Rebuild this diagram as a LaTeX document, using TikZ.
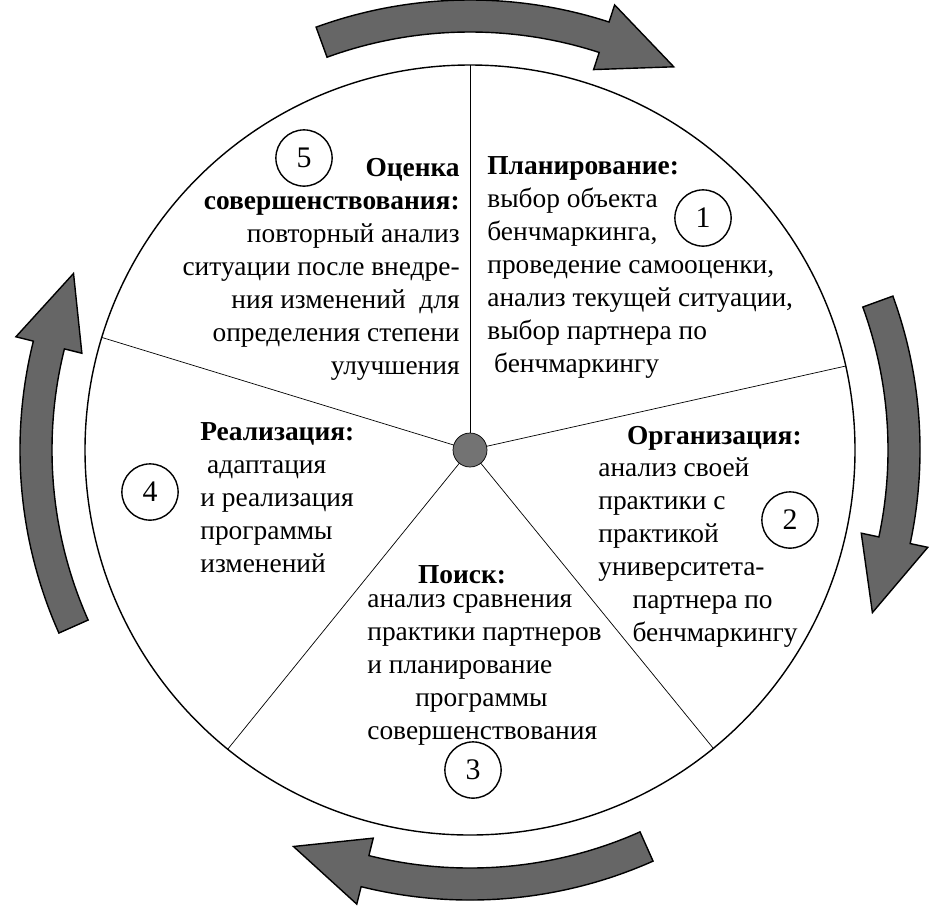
\documentclass[tikz,border=0pt]{standalone}
\usepackage{fontspec}
\setmainfont{Liberation Serif}
\usetikzlibrary{calc}
\tikzset{
  txt/.style={inner sep=0, font=\fontsize{15.6}{18.8}\selectfont},
  hdr/.style={txt, font=\fontsize{15.6}{18.8}\selectfont\bfseries},
  num/.style={draw, circle, thick, minimum size=32, inner sep=0,
    font=\fontsize{17}{19}\selectfont},
  spoke/.style={thin},
  cyc/.style={fill=black!60, draw=black, thick}
}
% curved arrow: from angle #1 to angle #2, tip at angle #3
\newcommand{\cyc}[3]{%
  \draw[cyc] ($(c)+(#1:418)$) arc[start angle=#1, end angle=#2, radius=418]
    -- ($(c)+(#2:400)$) -- ($(c)+(#3:434)$) -- ($(c)+(#2:468)$)
    -- ($(c)+(#2:450)$) arc[start angle=#2, end angle=#1, radius=450] -- cycle;}

\begin{document}
\begin{tikzpicture}[x=0.02cm, y=0.02cm]
  \useasboundingbox (0,0) rectangle (952,-907);
  \coordinate (c) at (470,-450);

  \draw[thick] (c) circle[radius=385];
  \foreach \a in {90, 12.6, -50.8, -129, 163}
    \draw[spoke] (c) -- ($(c)+(\a:385)$);
  \fill[black!55] (c) circle[radius=17];
  \draw (c) circle[radius=17];

  % arrows round the circle
  \cyc{110}{72}{62}
  \cyc{20}{-12}{-22}
  \cyc{-66}{-104}{-114}
  \cyc{-156}{-194}{-204}

  % 5
  \node[num] (n5) at (304,-158) {5};
  \node[txt, anchor=north east, align=right] (t5) at (460,-158)
    {\textbf{Оценка}\\\textbf{совершенствования:}\\повторный анализ\\ситуации после внедре-\\ния изменений\ \ для\\определения степени\\улучшения};

  % 1
  \node[txt, anchor=north west, align=left] (t1) at (487,-156)
    {\textbf{Планирование:}\\выбор объекта\\бенчмаркинга,\\проведение самооценки,\\анализ текущей ситуации,\\выбор партнера по\\\ бенчмаркингу};
  \node[num] (n1) at (703,-218) {1};

  % 2
  \node[hdr, anchor=north east] (h2) at (802,-426) {Организация:};
  \node[txt, anchor=north west, align=left] (t2) at (598,-457)
    {анализ своей\\практики с\\практикой\\университета-\\\ \ \ \ \ партнера по\\\ \ \ \ \ бенчмаркингу};
  \node[num] (n2) at (790,-520) {2};

  % 3
  \node[hdr] (h3) at (462,-575) {Поиск:};
  \node[txt, anchor=north west, align=left] (t3) at (367,-594)
    {анализ сравнения\\практики партнеров\\и планирование\\\ \ \ \ \ \ \ программы\\совершенствования};
  \node[num] (n3) at (473,-770) {3};

  % 4
  \node[txt, anchor=north west, align=left] (t4) at (200,-422)
    {\textbf{Реализация:}\\\ адаптация\\и реализация\\программы\\изменений};
  \node[num] (n4) at (150,-492) {4};
\end{tikzpicture}
\end{document}
